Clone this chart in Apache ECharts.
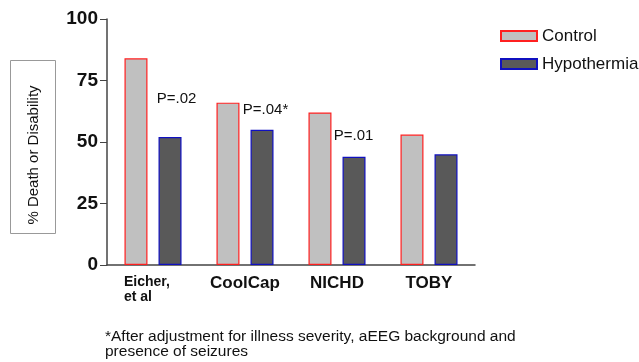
<!DOCTYPE html>
<html>
<head>
<meta charset="utf-8">
<script src="https://cdn.jsdelivr.net/npm/echarts@6/dist/echarts.min.js"></script>
<style>html,body{margin:0;padding:0;background:#fff}#c{width:639px;height:362px}</style>
</head>
<body>
<div id="c"></div>
<script>
const categories = ['Eicher,\net al', 'CoolCap', 'NICHD', 'TOBY'];
const control = [84, 66, 62, 53];
const hypothermia = [52, 55, 44, 45];
const pValues = ['P=.02', 'P=.04*', 'P=.01', ''];
const yTicks = [0, 25, 50, 75, 100];
const pOffsets = [[6.5, -26], [3.5, -7], [-0.5, -8], [0, 0]];

const chart = echarts.init(document.getElementById('c'), null, {renderer: 'canvas'});
const font = 'Arial, "Liberation Sans", sans-serif';
chart.setOption({
  animation: false,
  textStyle: {fontFamily: font},
  grid: {left: 107, right: 164, top: 19, bottom: 97},
  legend: {
    orient: 'vertical', left: 500, top: 27, padding: 0, itemWidth: 36, itemHeight: 10, itemGap: 10,
    icon: 'rect',
    textStyle: {fontSize: 17, lineHeight: 18, color: '#111', fontFamily: font},
    data: ['Control', 'Hypothermia']
  },
  xAxis: {
    type: 'category', data: categories,
    axisLine: {lineStyle: {color: '#444', width: 1.5}},
    axisTick: {alignWithLabel: true, length: 6, lineStyle: {color: '#444'}},
    axisLabel: {
      interval: 0, margin: 9.5, color: '#111', fontWeight: 'bold', fontSize: 17, fontFamily: font,
      formatter: v => v.indexOf('\n') >= 0 ? '{s|' + v.split('\n').join('}\n{s|') + '}' : v,
      rich: {s: {fontSize: 14, fontWeight: 'bold', lineHeight: 15, color: '#111', fontFamily: font, align: 'left', width: 58}}
    }
  },
  yAxis: {
    type: 'value', min: 0, max: 100, interval: 25,
    axisLine: {show: true, lineStyle: {color: '#444', width: 1.5}},
    axisTick: {show: true, length: 7, lineStyle: {color: '#444'}},
    splitLine: {show: false},
    axisLabel: {margin: 9, color: '#111', fontWeight: 'bold', fontSize: 19, fontFamily: font,
      formatter: v => yTicks.indexOf(v) >= 0 ? String(v) : ''}
  },
  series: [
    {
      name: 'Control', type: 'bar', data: control, barWidth: 23, barGap: '48%',
      itemStyle: {color: '#c0c0c0', borderColor: '#ff2020', borderWidth: 1.2}
    },
    {
      name: 'Hypothermia', type: 'bar', barWidth: 23,
      data: hypothermia.map((v, i) => ({
        value: v,
        label: {show: !!pValues[i], formatter: pValues[i], position: 'top', offset: pOffsets[i],
          fontSize: 15, color: '#111', fontFamily: font}
      })),
      itemStyle: {color: '#595959', borderColor: '#1010c0', borderWidth: 1.2}
    }
  ],
  graphic: [
    {type: 'rect', left: 10, top: 60, shape: {width: 45, height: 173},
      style: {fill: '#fff', stroke: '#999', lineWidth: 1}},
    {type: 'text', x: 34, y: 155, rotation: Math.PI / 2,
      style: {text: '% Death or Disability', fontSize: 15, fill: '#111', fontFamily: font,
        textAlign: 'center', textVerticalAlign: 'middle'}},
    {type: 'text', left: 105, top: 329,
      style: {text: '*After adjustment for illness severity, aEEG background and\npresence of seizures',
        fontSize: 15.5, lineHeight: 15, fill: '#111', fontFamily: font}}
  ]
});
</script>
</body>
</html>
